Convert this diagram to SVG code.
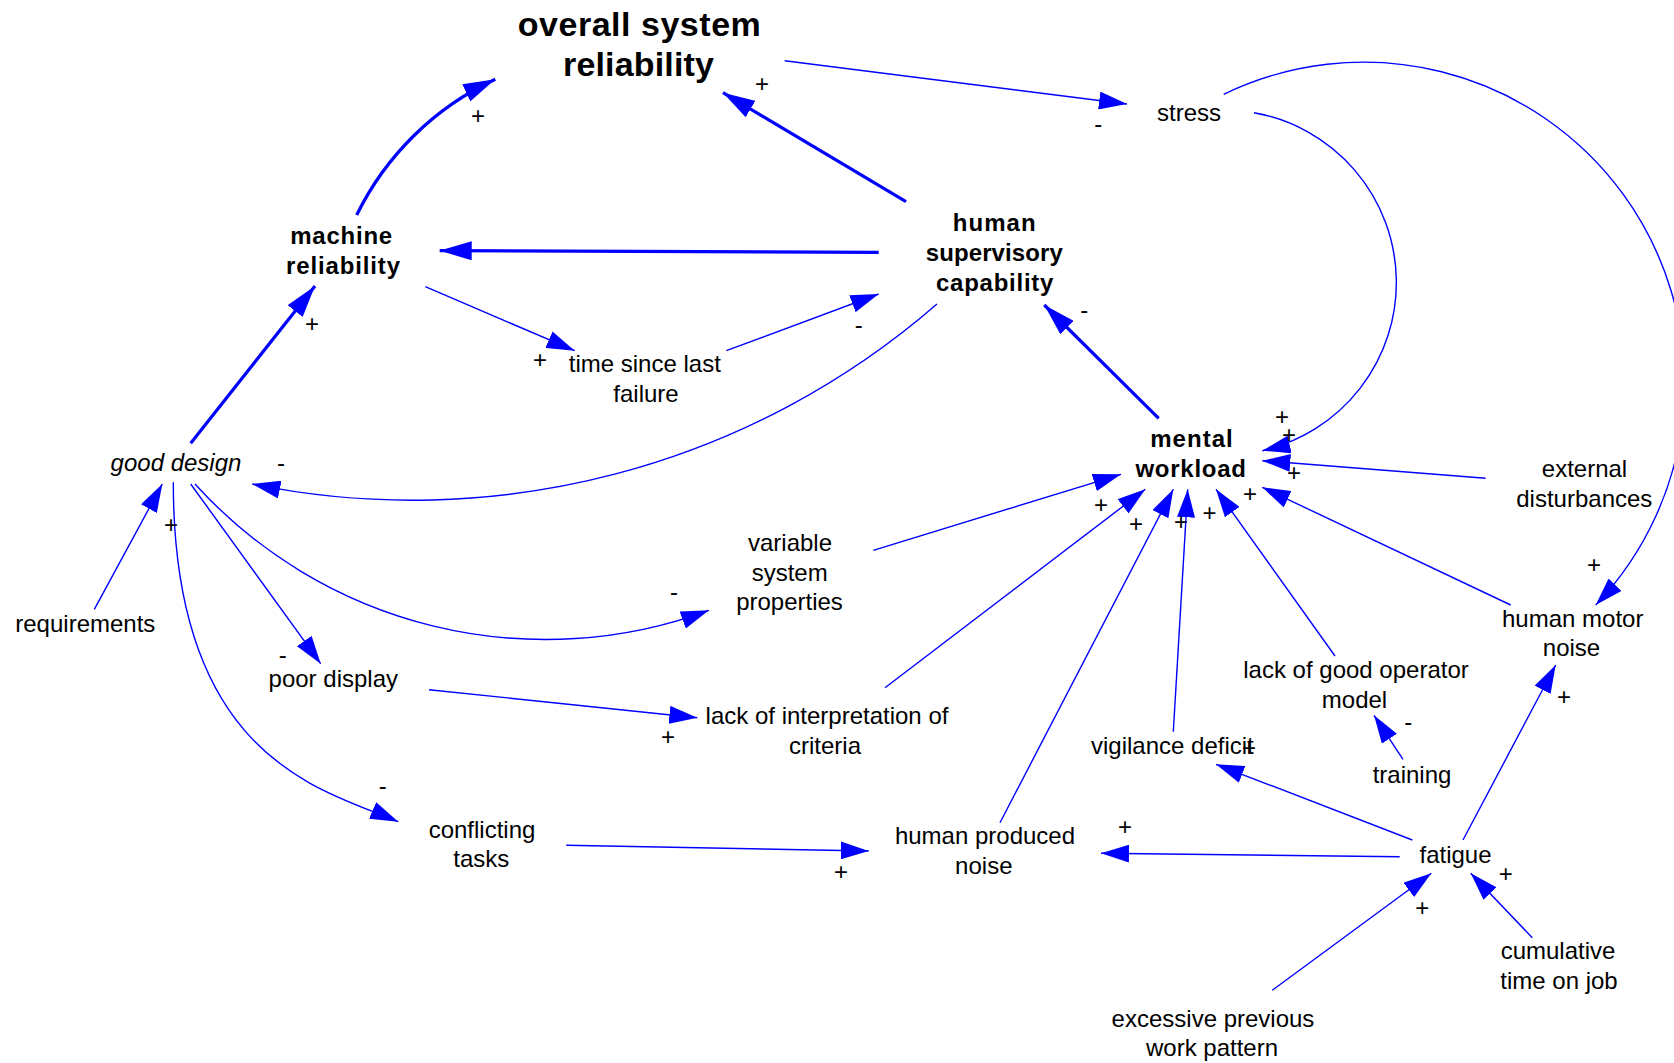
<svg xmlns="http://www.w3.org/2000/svg" width="1674" height="1063" viewBox="0 0 1674 1063">
<style>
text { font-family: "Liberation Sans", Arial, sans-serif; fill: #000; text-anchor: middle; }
.n { font-size: 24px; }
.i { font-size: 24px; font-style: italic; }
.b { font-size: 24px; font-weight: bold; }
.t { font-size: 34px; font-weight: bold; }
.s { font-size: 24px; }
.c { fill: none; stroke: #0000ff; stroke-width: 1.4; marker-end: url(#a); }
.k { fill: none; stroke: #0000ff; stroke-width: 3.2; marker-end: url(#ak); }
</style>
<defs>
<marker id="a" viewBox="0 0 28 18" markerWidth="28" markerHeight="18" refX="28" refY="9" markerUnits="userSpaceOnUse" orient="auto">
<path d="M0,0 L28,9 L0,18 Z" fill="#0000ff"/>
</marker>
<marker id="ak" viewBox="0 0 32 19" markerWidth="32" markerHeight="19" refX="32" refY="9.5" markerUnits="userSpaceOnUse" orient="auto">
<path d="M0,0 L32,9.5 L0,19 Z" fill="#0000ff"/>
</marker>
</defs>
<rect width="1674" height="1063" fill="#ffffff"/>

<g id="connectors">
<path class="k" d="M356.7,215 A290.4,290.4 0 0 1 495.3,79.3"/>
<path class="k" d="M906,201.7 L723,92.7"/>
<path class="k" d="M878.7,252.3 L439.7,250.7"/>
<path class="k" d="M190.7,443.3 L315,286"/>
<path class="k" d="M1158.7,418.3 L1044.3,305"/>
<path class="c" d="M784.7,60.7 L1127,104"/>
<path class="c" d="M425.3,286.7 L574.7,350.7"/>
<path class="c" d="M726.3,350.7 L878.7,294"/>
<path class="c" d="M937,304 A799.5,799.5 0 0 1 252.3,484"/>
<path class="c" d="M1254,112.7 A172.5,172.5 0 0 1 1262.3,450.7"/>
<path class="c" d="M1223.7,94.3 A321,321 0 0 1 1595.7,605"/>
<path class="c" d="M1485.7,478.3 L1262.3,460.7"/>
<path class="c" d="M1510.7,605 L1262.3,487.3"/>
<path class="c" d="M873.3,550.3 L1121,474.3"/>
<path class="c" d="M885,687.7 L1145.3,489.3"/>
<path class="c" d="M1000,822.7 L1173.3,489.3"/>
<path class="c" d="M1173.3,731.7 L1187.7,489.3"/>
<path class="c" d="M1335,656 L1216,489.3"/>
<path class="c" d="M94.3,609.3 L162.3,484"/>
<path class="c" d="M173.3,482.3 C173.3,762.3 324.9,789.7 398.3,821.7"/>
<path class="c" d="M190.7,484 L320.7,663.7"/>
<path class="c" d="M195,484 A472.6,472.6 0 0 0 709,610.3"/>
<path class="c" d="M429,689.7 L697.3,717.7"/>
<path class="c" d="M566.3,845.3 L868.7,851"/>
<path class="c" d="M1399.7,856.7 L1101,853.3"/>
<path class="c" d="M1412.3,840 L1216,764.3"/>
<path class="c" d="M1403,759.3 L1374,715.3"/>
<path class="c" d="M1463,840 L1555.7,665"/>
<path class="c" d="M1272.3,990.3 L1431.3,873.3"/>
<path class="c" d="M1532.3,937.7 L1470.7,873.3"/>
</g>

<g id="polarities">
<text class="s" x="478" y="124">+</text>
<text class="s" x="762" y="91.5">+</text>
<text class="s" x="312" y="332">+</text>
<text class="s" x="540" y="368">+</text>
<text class="s" x="171" y="533">+</text>
<text class="s" x="668" y="745">+</text>
<text class="s" x="841" y="880">+</text>
<text class="s" x="1125" y="835">+</text>
<text class="s" x="1249" y="756">+</text>
<text class="s" x="1101" y="513">+</text>
<text class="s" x="1136" y="532">+</text>
<text class="s" x="1181" y="530">+</text>
<text class="s" x="1209.5" y="521">+</text>
<text class="s" x="1250" y="502">+</text>
<text class="s" x="1294" y="481">+</text>
<text class="s" x="1282" y="425">+</text>
<text class="s" x="1289" y="443">+</text>
<text class="s" x="1594" y="573">+</text>
<text class="s" x="1564" y="705">+</text>
<text class="s" x="1422.3" y="916">+</text>
<text class="s" x="1505.7" y="882">+</text>
<text class="s" x="1098.3" y="132">-</text>
<text class="s" x="858.7" y="333">-</text>
<text class="s" x="1084.3" y="318">-</text>
<text class="s" x="281" y="471">-</text>
<text class="s" x="282.7" y="663">-</text>
<text class="s" x="382.7" y="794">-</text>
<text class="s" x="674" y="600">-</text>
<text class="s" x="1408.3" y="730">-</text>
</g>

<g id="overall-system-reliability">
<text class="t" x="639.3" y="36" textLength="243" lengthAdjust="spacing">overall system</text>
<text class="t" x="638.5" y="76" textLength="151" lengthAdjust="spacing">reliability</text>
</g>
<g id="stress"><text class="n" x="1189" y="120.7">stress</text></g>
<g id="machine-reliability">
<text class="b" x="341.2" y="244" textLength="102" lengthAdjust="spacing">machine</text>
<text class="b" x="343" y="274" textLength="114" lengthAdjust="spacing">reliability</text>
</g>
<g id="human-supervisory-capability">
<text class="b" x="994.2" y="230.7" textLength="83" lengthAdjust="spacing">human</text>
<text class="b" x="994.3" y="260.7" textLength="137" lengthAdjust="spacing">supervisory</text>
<text class="b" x="994.7" y="290.7" textLength="117.5" lengthAdjust="spacing">capability</text>
</g>
<g id="time-since-last-failure">
<text class="n" x="644.8" y="372.3">time since last</text>
<text class="n" x="646" y="402.3">failure</text>
</g>
<g id="mental-workload">
<text class="b" x="1191.5" y="446.7" textLength="82.5" lengthAdjust="spacing">mental</text>
<text class="b" x="1190.7" y="476.7" textLength="110.5" lengthAdjust="spacing">workload</text>
</g>
<g id="good-design"><text class="i" x="176" y="470.7">good design</text></g>
<g id="external-disturbances">
<text class="n" x="1584.5" y="477.3">external</text>
<text class="n" x="1584.3" y="507.3">disturbances</text>
</g>
<g id="requirements"><text class="n" x="85.3" y="632">requirements</text></g>
<g id="variable-system-properties">
<text class="n" x="790" y="551">variable</text>
<text class="n" x="789.7" y="581">system</text>
<text class="n" x="789.5" y="610.3">properties</text>
</g>
<g id="human-motor-noise">
<text class="n" x="1572.7" y="627">human motor</text>
<text class="n" x="1571.5" y="656">noise</text>
</g>
<g id="poor-display"><text class="n" x="333.3" y="686.7">poor display</text></g>
<g id="lack-of-good-operator-model">
<text class="n" x="1356" y="677.7">lack of good operator</text>
<text class="n" x="1354.5" y="707.7">model</text>
</g>
<g id="lack-of-interpretation-of-criteria">
<text class="n" x="827" y="724.3">lack of interpretation of</text>
<text class="n" x="825" y="754.3">criteria</text>
</g>
<g id="vigilance-deficit"><text class="n" x="1172.4" y="754.3">vigilance deficit</text></g>
<g id="training"><text class="n" x="1412" y="782.7">training</text></g>
<g id="conflicting-tasks">
<text class="n" x="482" y="837.7">conflicting</text>
<text class="n" x="481.3" y="867">tasks</text>
</g>
<g id="human-produced-noise">
<text class="n" x="985" y="844.3">human produced</text>
<text class="n" x="983.8" y="874.3">noise</text>
</g>
<g id="fatigue"><text class="n" x="1455.5" y="863.3">fatigue</text></g>
<g id="cumulative-time-on-job">
<text class="n" x="1558" y="959.3">cumulative</text>
<text class="n" x="1559" y="989.3">time on job</text>
</g>
<g id="excessive-previous-work-pattern">
<text class="n" x="1213" y="1027">excessive previous</text>
<text class="n" x="1212" y="1056">work pattern</text>
</g>
</svg>
